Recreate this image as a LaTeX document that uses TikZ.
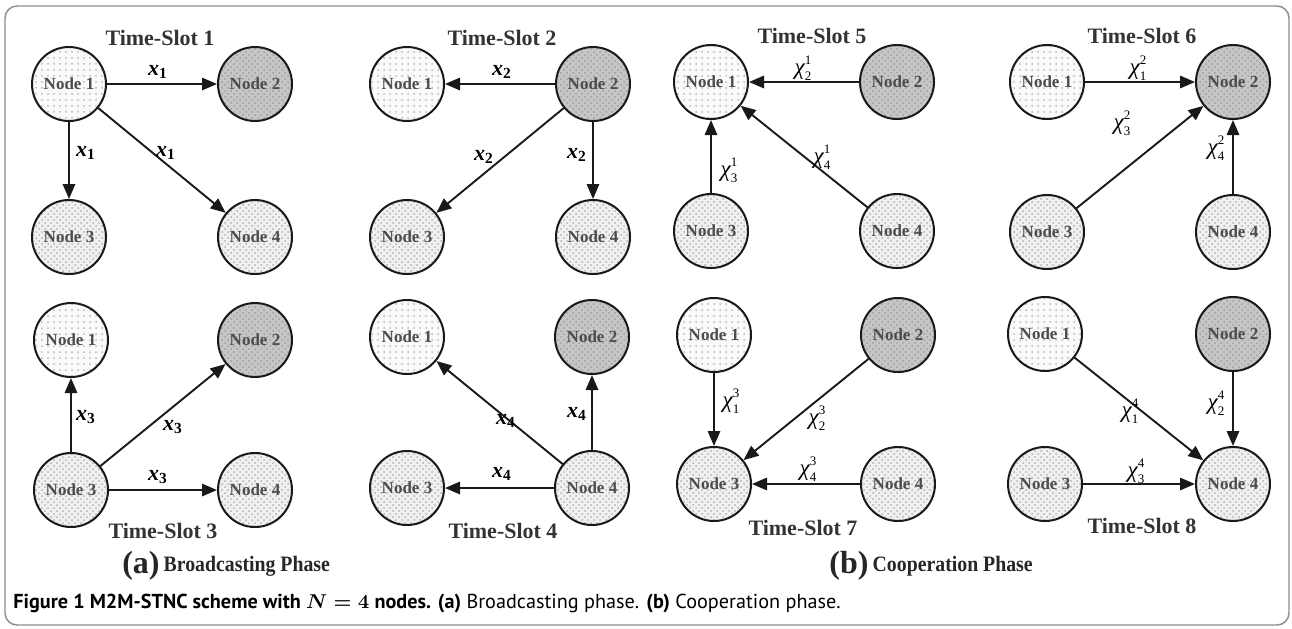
\documentclass[tikz,border=0pt]{standalone}
\usepackage{fontspec}
\setmainfont{Liberation Serif}
\newfontfamily\capfont{PT Sans}
\usetikzlibrary{arrows.meta,patterns}
\newcommand\xlab[1]{{\bfseries\itshape x}\textsubscript{\bfseries #1}}
\newcommand\chilab[2]{{\itshape χ}\rlap{\raisebox{0.95ex}{\fontsize{6.5}{6.5}\selectfont #2}}\raisebox{-0.55ex}{\fontsize{6.5}{6.5}\selectfont #1}}
\begin{document}
\begin{tikzpicture}[x=0.5pt,y=-0.5pt,
  nd/.style={circle, draw=black!90, line width=1pt, minimum size=37pt, inner sep=0pt,
    font=\bfseries\fontsize{8.5}{10}\selectfont, text=black!70},
  n1/.style={nd, preaction={fill=gray!4}, pattern=dots, pattern color=gray!55},
  n34/.style={nd, preaction={fill=gray!12}, pattern=crosshatch dots, pattern color=gray!60},
  n2/.style={nd, preaction={fill=gray!45}, pattern=crosshatch dots, pattern color=gray!75},
  edge/.style={line width=0.95pt, draw=black!90, -{Triangle[length=7.5pt,width=6.2pt]}},
  lab/.style={font=\fontsize{11}{12}\selectfont, inner sep=0pt},
  clab/.style={font=\fontsize{11.5}{12}\selectfont, inner sep=0pt},
  ts/.style={font=\bfseries\fontsize{11}{12}\selectfont, text=black!80, inner sep=0pt},
  phase/.style={font=\bfseries\fontsize{11}{13}\selectfont, text=black!85, inner sep=0pt, xscale=0.9},
  big/.style={font=\bfseries\fontsize{16}{18}\selectfont, text=black!85, inner sep=0pt}
]
\useasboundingbox (0,0) rectangle (1292,628);
\draw[draw=black!45, line width=0.7pt, rounded corners=6pt] (5,6) rectangle (1289,625);

% ---------- Time-Slot 1
\node[n1]  (a1) at (69,84)   {Node 1};
\node[n2]  (a2) at (255,84)  {Node 2};
\node[n34] (a3) at (69,237)  {Node 3};
\node[n34] (a4) at (255,237) {Node 4};
\node[ts]  (ta) at (160,38)  {Time-Slot 1};
\draw[edge] (a1) -- (a2);
\draw[edge] (a1) -- (a3);
\draw[edge] (a1) -- (a4);
\node[lab] (la2) at (158,72)  {\xlab{1}};
\node[lab] (la3) at (86,153)  {\xlab{1}};
\node[lab] (la4) at (166,153) {\xlab{1}};

% ---------- Time-Slot 2
\node[n1]  (b1) at (407,84)  {Node 1};
\node[n2]  (b2) at (593,84)  {Node 2};
\node[n34] (b3) at (407,237) {Node 3};
\node[n34] (b4) at (593,237) {Node 4};
\node[ts]  (tb) at (502,38)  {Time-Slot 2};
\draw[edge] (b2) -- (b1);
\draw[edge] (b2) -- (b3);
\draw[edge] (b2) -- (b4);
\node[lab] (lb1) at (502,72)  {\xlab{2}};
\node[lab] (lb3) at (484,157) {\xlab{2}};
\node[lab] (lb4) at (577,155) {\xlab{2}};

% ---------- Time-Slot 3
\node[n1]  (c1) at (71,340)  {Node 1};
\node[n2]  (c2) at (255,340) {Node 2};
\node[n34] (c3) at (71,490)  {Node 3};
\node[n34] (c4) at (255,490) {Node 4};
\node[ts]  (tc) at (163,531) {Time-Slot 3};
\draw[edge] (c3) -- (c1);
\draw[edge] (c3) -- (c2);
\draw[edge] (c3) -- (c4);
\node[lab] (lc1) at (86,417)  {\xlab{3}};
\node[lab] (lc2) at (173,427) {\xlab{3}};
\node[lab] (lc4) at (158,477) {\xlab{3}};

% ---------- Time-Slot 4
\node[n1]  (d1) at (407,337) {Node 1};
\node[n2]  (d2) at (592,337) {Node 2};
\node[n34] (d3) at (407,488) {Node 3};
\node[n34] (d4) at (592,488) {Node 4};
\node[ts]  (td) at (503,531) {Time-Slot 4};
\draw[edge] (d4) -- (d1);
\draw[edge] (d4) -- (d2);
\draw[edge] (d4) -- (d3);
\node[lab] (ld1) at (506,421) {\xlab{4}};
\node[lab] (ld2) at (577,414) {\xlab{4}};
\node[lab] (ld3) at (502,474) {\xlab{4}};

% ---------- Time-Slot 5
\node[n1]  (e1) at (711,82)  {Node 1};
\node[n2]  (e2) at (897,82)  {Node 2};
\node[n34] (e3) at (711,231) {Node 3};
\node[n34] (e4) at (897,231) {Node 4};
\node[ts]  (te) at (812,36)  {Time-Slot 5};
\draw[edge] (e2) -- (e1);
\draw[edge] (e3) -- (e1);
\draw[edge] (e4) -- (e1);
\node[clab] (le2) at (803,68)  {\chilab{2}{1}};
\node[clab] (le3) at (729,170) {\chilab{3}{1}};
\node[clab] (le4) at (822,157) {\chilab{4}{1}};

% ---------- Time-Slot 6
\node[n1]  (f1) at (1047,82)  {Node 1};
\node[n2]  (f2) at (1233,82)  {Node 2};
\node[n34] (f3) at (1047,232) {Node 3};
\node[n34] (f4) at (1233,232) {Node 4};
\node[ts]  (tf) at (1142,36)  {Time-Slot 6};
\draw[edge] (f1) -- (f2);
\draw[edge] (f3) -- (f2);
\draw[edge] (f4) -- (f2);
\node[clab] (lf1) at (1138,68)  {\chilab{1}{2}};
\node[clab] (lf3) at (1122,123) {\chilab{3}{2}};
\node[clab] (lf4) at (1216,148) {\chilab{4}{2}};

% ---------- Time-Slot 7
\node[n1]  (g1) at (714,335) {Node 1};
\node[n2]  (g2) at (898,335) {Node 2};
\node[n34] (g3) at (714,484) {Node 3};
\node[n34] (g4) at (898,484) {Node 4};
\node[ts]  (tg) at (803,528) {Time-Slot 7};
\draw[edge] (g1) -- (g3);
\draw[edge] (g2) -- (g3);
\draw[edge] (g4) -- (g3);
\node[clab] (lg1) at (731,401) {\chilab{1}{3}};
\node[clab] (lg2) at (817,418) {\chilab{2}{3}};
\node[clab] (lg4) at (808,469) {\chilab{4}{3}};

% ---------- Time-Slot 8
\node[n1]  (h1) at (1045,334) {Node 1};
\node[n2]  (h2) at (1233,334) {Node 2};
\node[n34] (h3) at (1045,484) {Node 3};
\node[n34] (h4) at (1233,484) {Node 4};
\node[ts]  (th) at (1142,526) {Time-Slot 8};
\draw[edge] (h1) -- (h4);
\draw[edge] (h2) -- (h4);
\draw[edge] (h3) -- (h4);
\node[clab] (lh1) at (1130,411) {\chilab{1}{4}};
\node[clab] (lh2) at (1216,403) {\chilab{2}{4}};
\node[clab] (lh3) at (1136,471) {\chilab{3}{4}};

% ---------- phase labels
\node[big, anchor=east]   (pa) at (160,566) {(a)};
\node[phase, anchor=west] (pat) at (pa.east) {\,Broadcasting Phase};
\node[big, anchor=east]   (pb) at (869,566) {(b)};
\node[phase, anchor=west] (pbt) at (pb.east) {\,Cooperation Phase};

% ---------- caption
\node[anchor=west, inner sep=0pt, font=\capfont\fontsize{10.1}{12}\selectfont] (cap) at (13,604)
  {\textbf{Figure 1 M2M-STNC scheme with {\boldmath$N=4$} nodes. (a)} Broadcasting phase. \textbf{(b)} Cooperation phase.};
\end{tikzpicture}
\end{document}
